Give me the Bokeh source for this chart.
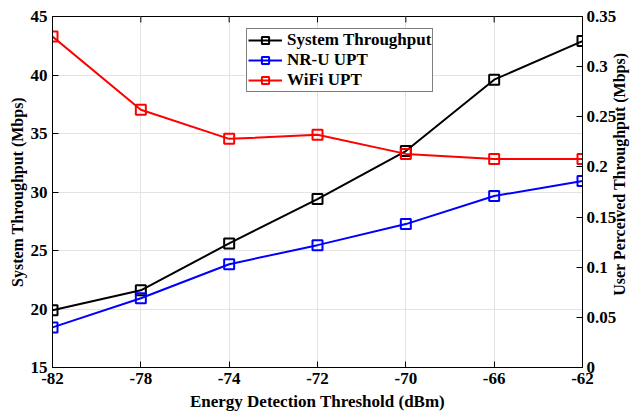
import math
from bokeh.plotting import figure
from bokeh.models import (LinearAxis, Range1d, FixedTicker, Legend, LegendItem,
                          ColumnDataSource)
from bokeh.embed import file_html
from bokeh.resources import INLINE

# ---- data ----
x_labels = ["-82", "-78", "-74", "-72", "-70", "-66", "-62"]
system_throughput = [19.9, 21.6, 25.6, 29.4, 33.5, 39.6, 42.9]
nru_upt = [0.040, 0.069, 0.103, 0.122, 0.143, 0.171, 0.186]
wifi_upt = [0.330, 0.257, 0.228, 0.232, 0.213, 0.208, 0.208]
left_ticks = [15, 20, 25, 30, 35, 40, 45]
left_tick_labels = ["15", "20", "25", "30", "35", "40", "45"]
right_ticks = [0, 0.05, 0.1, 0.15, 0.2, 0.25, 0.3, 0.35]
right_tick_labels = ["0", "0.05", "0.1", "0.15", "0.2", "0.25", "0.3", "0.35"]
right_title = "User Perceived Throughput (Mbps)"

x_pos = list(range(len(x_labels)))
src = ColumnDataSource(dict(x=x_pos, sys=system_throughput, nru=nru_upt, wifi=wifi_upt,
                            top=[left_ticks[-1]] * len(x_pos)))

FONT = "Liberation Serif"

p = figure(width=639, height=413, output_backend="svg", toolbar_location=None,
           x_range=Range1d(x_pos[0], x_pos[-1]),
           y_range=Range1d(left_ticks[0], left_ticks[-1]),
           min_border_left=52, min_border_right=55, min_border_top=16, min_border_bottom=45,
           x_axis_location=None, y_axis_location=None)
p.extra_y_ranges = {"right": Range1d(right_ticks[0], right_ticks[-1])}

p.outline_line_color = "black"
p.outline_line_width = 1
p.background_fill_color = "white"
p.border_fill_color = "white"


def style_axis(ax):
    ax.axis_line_color = "black"
    ax.axis_line_width = 1
    ax.major_tick_in = 6
    ax.major_tick_out = 0
    ax.major_tick_line_color = "black"
    ax.minor_tick_line_color = None
    ax.major_label_text_font = FONT
    ax.major_label_text_font_style = "bold"
    ax.major_label_text_font_size = "17px"
    ax.major_label_text_color = "black"
    ax.axis_label_text_font = FONT
    ax.axis_label_text_font_style = "bold"
    ax.axis_label_text_font_size = "16px"
    ax.axis_label_text_color = "black"


xaxis = LinearAxis(ticker=FixedTicker(ticks=x_pos),
                   major_label_overrides={i: l for i, l in zip(x_pos, x_labels)},
                   axis_label="Energy Detection Threshold (dBm)")
style_axis(xaxis)
xaxis.axis_label_text_font_size = "17px"
xaxis.major_label_standoff = 5
xaxis.axis_label_standoff = 5
p.add_layout(xaxis, "below")

yaxis = LinearAxis(ticker=FixedTicker(ticks=left_ticks),
                   major_label_overrides={t: l for t, l in zip(left_ticks, left_tick_labels)},
                   axis_label="System Throughput (Mbps)")
style_axis(yaxis)
yaxis.major_label_standoff = 5
yaxis.axis_label_standoff = 2
p.add_layout(yaxis, "left")

raxis = LinearAxis(y_range_name="right", ticker=FixedTicker(ticks=right_ticks),
                   major_label_overrides={t: l for t, l in zip(right_ticks, right_tick_labels)})
style_axis(raxis)
raxis.major_label_standoff = 4
p.add_layout(raxis, "right")

# right-hand axis title, reading bottom-to-top like the left one
mid = (right_ticks[0] + right_ticks[-1]) / 2
rtitle = LinearAxis(y_range_name="right", ticker=FixedTicker(ticks=[mid]),
                    major_label_overrides={mid: right_title})
style_axis(rtitle)
rtitle.axis_line_color = None
rtitle.major_tick_line_color = None
rtitle.major_tick_in = 0
rtitle.major_label_standoff = 0
rtitle.major_label_text_font_size = "16px"
rtitle.major_label_orientation = math.pi / 2
p.add_layout(rtitle, "right")

# grids
p.xgrid.ticker = FixedTicker(ticks=x_pos)
p.ygrid.ticker = FixedTicker(ticks=left_ticks)
for g in (p.xgrid, p.ygrid):
    g.grid_line_color = "#e3e3e3"
    g.grid_line_width = 1

# inward tick marks along the top edge of the box
p.ray("x", "top", source=src, length=6, length_units="screen", angle=-math.pi / 2,
      line_color="black", line_width=1)

# series
l1 = p.line("x", "sys", source=src, line_color="black", line_width=2)
m1 = p.scatter("x", "sys", source=src, marker="square", size=10,
               line_color="black", line_width=2, fill_color=None)
l2 = p.line("x", "nru", source=src, y_range_name="right", line_color="blue", line_width=2)
m2 = p.scatter("x", "nru", source=src, y_range_name="right", marker="square", size=10,
               line_color="blue", line_width=2, fill_color=None)
l3 = p.line("x", "wifi", source=src, y_range_name="right", line_color="red", line_width=2)
m3 = p.scatter("x", "wifi", source=src, y_range_name="right", marker="square", size=10,
               line_color="red", line_width=2, fill_color=None)

legend = Legend(items=[
    LegendItem(label="System Throughput", renderers=[l1, m1]),
    LegendItem(label="NR-U UPT", renderers=[l2, m2]),
    LegendItem(label="WiFi UPT", renderers=[l3, m3]),
], location=(194, 275))
legend.label_text_font = FONT
legend.label_text_font_style = "bold"
legend.label_text_font_size = "17px"
legend.label_text_color = "black"
legend.glyph_width = 34
legend.glyph_height = 18
legend.label_height = 18
legend.spacing = -2
legend.padding = 1
legend.margin = 0
legend.label_standoff = 5
legend.border_line_color = "black"
legend.border_line_width = 1
legend.background_fill_color = "white"
legend.background_fill_alpha = 1
p.add_layout(legend, "center")

open("out.html", "w").write(file_html(p, INLINE))
